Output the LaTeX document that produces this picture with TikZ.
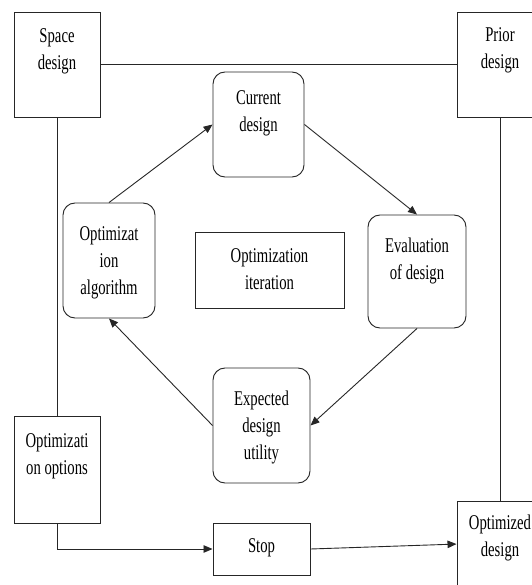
\documentclass[tikz,border=0pt]{standalone}
\usepackage{fontspec}
\setmainfont{Liberation Serif}[FakeStretch=0.7]
\usetikzlibrary{arrows.meta}
\newcommand{\toptext}[3]{\rule{0pt}{#1bp}#3\rule[-#2bp]{0pt}{0pt}}

\begin{document}
\begin{tikzpicture}[
    x=1bp, y=-1bp,
    every node/.style={font=\fontsize{21bp}{27bp}\selectfont, align=center, inner xsep=0pt, inner ysep=0pt},
    sqbox/.style={draw=black!85, line width=0.95bp, fill=white},
    rbox/.style={sqbox, rounded corners=12bp},
    link/.style={draw=black!85, line width=0.9bp},
    arrow/.style={link, -{Triangle[length=9bp, width=7.5bp]}}
]
\useasboundingbox (0,0) rectangle (532,585);

% outer frame
\node[sqbox, minimum width=86bp] (space) at (57,64.5) {\toptext{31}{47}{Space\\design}};
\node[sqbox, minimum width=86bp] (prior) at (500,64.5) {\toptext{30}{48}{Prior\\design}};
\node[sqbox, minimum width=86bp] (options) at (57,469.5) {\toptext{31}{49}{Optimizati\\on options}};
\node[sqbox, minimum width=97bp] (stop) at (261.5,549) {\toptext{29}{23}{Stop}};
\node[sqbox, minimum width=86bp] (optimized) at (500,558.5) {\toptext{28}{60}{Optimized\\design}};

% iteration loop
\node[rbox, minimum width=91bp] (current) at (258.5,124.5) {\toptext{33}{45}{Current\\design}};
\node[rbox, minimum width=92bp] (optalg) at (109,260.5) {\toptext{37}{24}{Optimizat\\ion\\algorithm}};
\node[sqbox, minimum width=149bp] (iter) at (269.5,270) {\toptext{30}{19}{Optimization\\iteration}};
\node[rbox, minimum width=98bp] (eval) at (417,271.5) {\toptext{37}{49}{Evaluation\\of design}};
\node[rbox, minimum width=97bp] (expected) at (261.5,425.5) {\toptext{37}{24}{Expected\\design\\utility}};

\draw[link] (space) -- (prior);
\draw[link] (space) -- (options);
\draw[link] (prior) -- (optimized);
\draw[arrow] (options) |- (stop);
\draw[arrow] (stop.east) -- ([yshift=14.5pt]optimized.west);

\draw[arrow] (optalg.north) -- (current.west);
\draw[arrow] (current.east) -- (eval.north);
\draw[arrow] (eval.south) -- (expected.east);
\draw[arrow] (expected.west) -- (optalg.south);

\end{tikzpicture}
\end{document}
